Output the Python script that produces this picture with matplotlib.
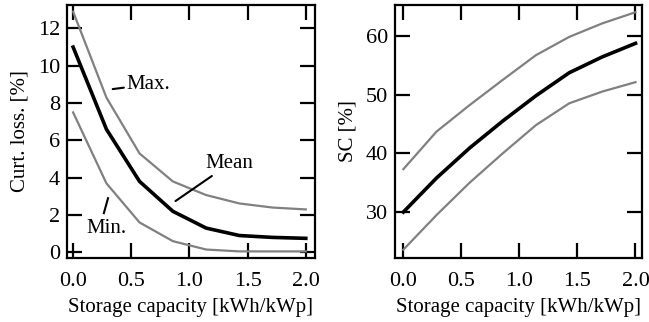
import numpy as np
import matplotlib
matplotlib.use("Agg")
from matplotlib import pyplot as plt

plt.rcParams['font.family'] = ['Liberation Serif', 'DejaVu Serif']
plt.rcParams['font.size'] = 15

# storage capacity [kWh/kWp]
storage = [0.0, 0.286, 0.571, 0.857, 1.143, 1.429, 1.714, 2.0]

# curtailment losses [%]
curt_max = [12.9, 8.3, 5.3, 3.8, 3.07, 2.62, 2.4, 2.3]
curt_mean = [11.0, 6.6, 3.8, 2.2, 1.3, 0.9, 0.8, 0.75]
curt_min = [7.5, 3.7, 1.6, 0.6, 0.15, 0.05, 0.05, 0.05]

# self consumption [%]
sc_max = [37.3, 43.7, 48.2, 52.5, 56.7, 59.8, 62.1, 64.0]
sc_mean = [30.0, 35.8, 40.9, 45.5, 49.8, 53.7, 56.4, 58.7]
sc_min = [23.6, 29.5, 35.0, 40.0, 44.8, 48.5, 50.5, 52.1]

gray = '#808080'

fig = plt.figure(figsize=(6.49, 3.22), dpi=100)
ax1 = fig.add_axes([0.103, 0.199, 0.382, 0.785])
ax2 = fig.add_axes([0.609, 0.199, 0.380, 0.785])

for ax in (ax1, ax2):
    ax.tick_params(direction='in', length=10.5, width=1.6, top=True, right=True, labelsize=16)
    ax.tick_params(axis='x', pad=10)
    ax.tick_params(axis='y', pad=5)
    for s in ax.spines.values():
        s.set_linewidth(1.6)
    ax.set_xticks([0.0, 0.5, 1.0, 1.5, 2.0])
    ax.set_xlabel('Storage capacity [kWh/kWp]', fontsize=15, labelpad=5)

ax1.plot(storage, curt_max, color=gray, lw=1.6)
ax1.plot(storage, curt_mean, color='black', lw=2.6)
ax1.plot(storage, curt_min, color=gray, lw=1.6)
ax1.set_xlim(-0.054, 2.077)
ax1.set_ylim(-0.3, 13.25)
ax1.set_yticks([0, 2, 4, 6, 8, 10, 12])
ax1.set_ylabel('Curt. loss. [%]', fontsize=15, labelpad=6)

line = dict(arrowstyle='-', color='black', lw=1.5, shrinkA=0, shrinkB=0)
ax1.annotate('Max.', xy=(0.34, 8.75), xytext=(0.46, 9.0), arrowprops=line, va='center', ha='left', fontsize=15)
ax1.annotate('Mean', xy=(0.88, 2.75), xytext=(1.14, 4.75), arrowprops=line, va='center', ha='left', fontsize=15)
ax1.text(0.29, 1.3, 'Min.', va='center', ha='center', fontsize=15)
ax1.plot([0.264, 0.30], [2.1, 2.9], color='black', lw=1.5)

ax2.plot(storage, sc_max, color=gray, lw=1.6)
ax2.plot(storage, sc_mean, color='black', lw=2.6)
ax2.plot(storage, sc_min, color=gray, lw=1.6)
ax2.set_xlim(-0.07, 2.055)
ax2.set_ylim(22.2, 65.2)
ax2.set_yticks([30, 40, 50, 60])
ax2.set_ylabel('SC [%]', fontsize=15, labelpad=6)

plt.savefig('out.png', dpi=100)
